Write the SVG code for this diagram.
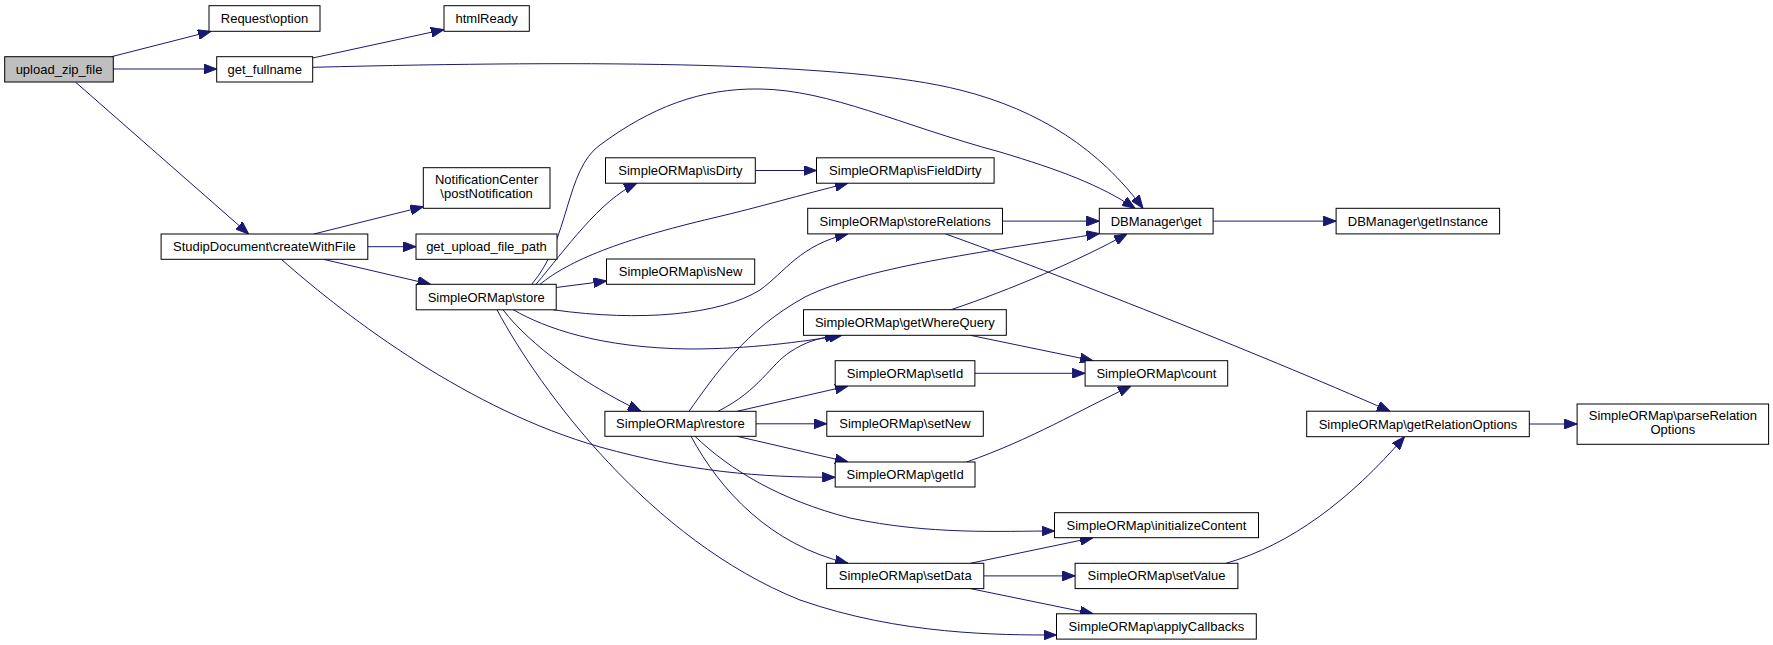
<svg xmlns="http://www.w3.org/2000/svg" width="1773" height="645" viewBox="0 0 1773 645">
<style>
.n rect{fill:#ffffff;stroke:#000000;stroke-width:1}
.n text{font-family:"Liberation Sans",Arial,sans-serif;font-size:13px;fill:#000000;text-anchor:middle}
#edges path{fill:none;stroke:#191970;stroke-width:1;marker-end:url(#ah)}
</style>
<defs>
<marker id="ah" viewBox="0 0 13 10" refX="13" refY="5" markerWidth="13" markerHeight="10" markerUnits="userSpaceOnUse" orient="auto">
<path d="M0,0 L13,5 L0,10 z" fill="#191970" stroke="#191970" stroke-width="1"/>
</marker>
</defs>
<rect width="1773" height="645" fill="#ffffff"/>
<g id="edges">
<path d="M111.5,56.7 L211,31.3"/>
<path d="M113.3,69 L216.7,69"/>
<path d="M75.4,82 L248.7,234"/>
<path d="M312.7,58 L444,29.5"/>
<path d="M312.7,67.3 C600,60 850,62 960,90 C1040,110 1100,150 1143,208.3"/>
<path d="M313.8,234 L423.3,206.7"/>
<path d="M367.8,246.7 L416,246.7"/>
<path d="M323.4,259.3 L430.5,284.3"/>
<path d="M281.3,259.3 C350,320 470,410 600,447 C690,472 760,477.3 835.2,477.3"/>
<path d="M536,284.3 C565,250 600,200 637,183.2"/>
<path d="M531.7,284.3 C570,240 565,170 600,145 C650,108 700,88 760,89 C830,90 900,125 1000,152 C1060,170 1100,185 1135,208.3"/>
<path d="M540,284.3 C570,260 620,240 713,218 C760,207 800,195 848,183.2"/>
<path d="M556.2,287.5 L606.5,281"/>
<path d="M553.3,309.8 C640,322 720,315 760,290 C785,272 800,245 848,233.9"/>
<path d="M513.3,309.8 C545,328 600,348 690,349 C750,349 800,342 842,335.3"/>
<path d="M503,309.8 C530,345 585,385 641,411.3"/>
<path d="M497,309.8 C540,390 650,540 800,600 C900,635 1000,635 1056.5,635"/>
<path d="M689,411.3 C715,375 745,330 805,297 C870,265 1000,250 1099.3,233.5"/>
<path d="M951,309.7 C1010,290 1080,260 1127,233.9"/>
<path d="M1002.5,221.1 L1099.3,221.1"/>
<path d="M945.5,233.9 C1060,275 1250,350 1390,411.2"/>
<path d="M1213.1,221.1 L1336.1,221.1"/>
<path d="M718,411.3 C760,390 770,365 790,352 C805,342 818,338 838,335.3"/>
<path d="M737,411.3 L848,386"/>
<path d="M756,423.8 L826.8,423.8"/>
<path d="M737,436.3 L848,462"/>
<path d="M695,436.3 C730,470 780,500 850,518 C930,535 1000,531 1054.5,531"/>
<path d="M691,436.3 C720,490 770,545 848,563.3"/>
<path d="M970.3,335.3 L1093,360.7"/>
<path d="M975,373.3 L1085.1,373.3"/>
<path d="M966.5,462 C1030,440 1080,410 1131,386"/>
<path d="M970.3,563.3 L1093,537.7"/>
<path d="M983.8,575.9 L1075.1,575.9"/>
<path d="M970.3,588.6 L1093,613.8"/>
<path d="M1226,563.3 C1290,545 1350,500 1404.5,436.7"/>
<path d="M1529.3,424 L1577.1,424"/>
<path d="M755.3,170.5 L816.5,170.5"/>
</g>
<g id="upload_zip_file" class="n"><rect x="4.7" y="56.7" width="108.6" height="25.3" style="fill:#bfbfbf"/><text x="59" y="73.8">upload_zip_file</text></g>
<g id="request_option" class="n"><rect x="209" y="5.7" width="111" height="25.6"/><text x="264.5" y="23">Request\option</text></g>
<g id="get_fullname" class="n"><rect x="216.7" y="56.7" width="96" height="25.3"/><text x="264.7" y="73.8">get_fullname</text></g>
<g id="htmlready" class="n"><rect x="444" y="5.7" width="85.3" height="25.6"/><text x="486.6" y="23">htmlReady</text></g>
<g id="postnotification" class="n"><rect x="423.3" y="167.7" width="126.7" height="40.6"/><text x="486.6" y="183.8">NotificationCenter</text><text x="486.6" y="198.2">\postNotification</text></g>
<g id="createwithfile" class="n"><rect x="161.1" y="234" width="206.7" height="25.3"/><text x="264.4" y="251.1">StudipDocument\createWithFile</text></g>
<g id="get_upload_file_path" class="n"><rect x="416" y="234" width="141" height="25.3"/><text x="486.5" y="251.1">get_upload_file_path</text></g>
<g id="store" class="n"><rect x="416.2" y="284.3" width="140" height="25.5"/><text x="486.2" y="301.5">SimpleORMap\store</text></g>
<g id="isdirty" class="n"><rect x="605.5" y="157.8" width="149.8" height="25.4"/><text x="680.4" y="175">SimpleORMap\isDirty</text></g>
<g id="isfielddirty" class="n"><rect x="816.5" y="157.8" width="177.6" height="25.4"/><text x="905.3" y="175">SimpleORMap\isFieldDirty</text></g>
<g id="storerelations" class="n"><rect x="807.7" y="208.3" width="194.8" height="25.6"/><text x="905.1" y="225.6">SimpleORMap\storeRelations</text></g>
<g id="dbmanager_get" class="n"><rect x="1099.3" y="208.3" width="113.8" height="25.6"/><text x="1156.2" y="225.6">DBManager\get</text></g>
<g id="dbmanager_getinstance" class="n"><rect x="1336.1" y="208.3" width="163.5" height="25.6"/><text x="1417.9" y="225.6">DBManager\getInstance</text></g>
<g id="isnew" class="n"><rect x="606.5" y="259" width="148.2" height="25.3"/><text x="680.6" y="276.1">SimpleORMap\isNew</text></g>
<g id="getwherequery" class="n"><rect x="803.5" y="309.7" width="202.8" height="25.6"/><text x="904.9" y="327">SimpleORMap\getWhereQuery</text></g>
<g id="setid" class="n"><rect x="835.2" y="360.7" width="139.7" height="25.3"/><text x="905" y="377.8">SimpleORMap\setId</text></g>
<g id="count" class="n"><rect x="1085.1" y="360.7" width="142.6" height="25.3"/><text x="1156.4" y="377.8">SimpleORMap\count</text></g>
<g id="restore" class="n"><rect x="604.9" y="411.3" width="151.1" height="25"/><text x="680.4" y="428.3">SimpleORMap\restore</text></g>
<g id="setnew" class="n"><rect x="826.8" y="411.3" width="156.5" height="25"/><text x="905" y="428.3">SimpleORMap\setNew</text></g>
<g id="getid" class="n"><rect x="835.2" y="462" width="139.8" height="25"/><text x="905.1" y="479">SimpleORMap\getId</text></g>
<g id="getrelationoptions" class="n"><rect x="1306.7" y="411.2" width="222.6" height="25.5"/><text x="1418" y="428.5">SimpleORMap\getRelationOptions</text></g>
<g id="parserelationoptions" class="n"><rect x="1577.1" y="404" width="191.5" height="40.3"/><text x="1672.9" y="420">SimpleORMap\parseRelation</text><text x="1672.9" y="434.4">Options</text></g>
<g id="initializecontent" class="n"><rect x="1054.5" y="512.7" width="204" height="25"/><text x="1156.5" y="529.7">SimpleORMap\initializeContent</text></g>
<g id="setdata" class="n"><rect x="826.6" y="563.3" width="157.2" height="25.3"/><text x="905.2" y="580.4">SimpleORMap\setData</text></g>
<g id="setvalue" class="n"><rect x="1075.1" y="563.3" width="162.8" height="25.3"/><text x="1156.5" y="580.4">SimpleORMap\setValue</text></g>
<g id="applycallbacks" class="n"><rect x="1056.5" y="613.8" width="199.8" height="25.3"/><text x="1156.4" y="630.9">SimpleORMap\applyCallbacks</text></g>
</svg>
